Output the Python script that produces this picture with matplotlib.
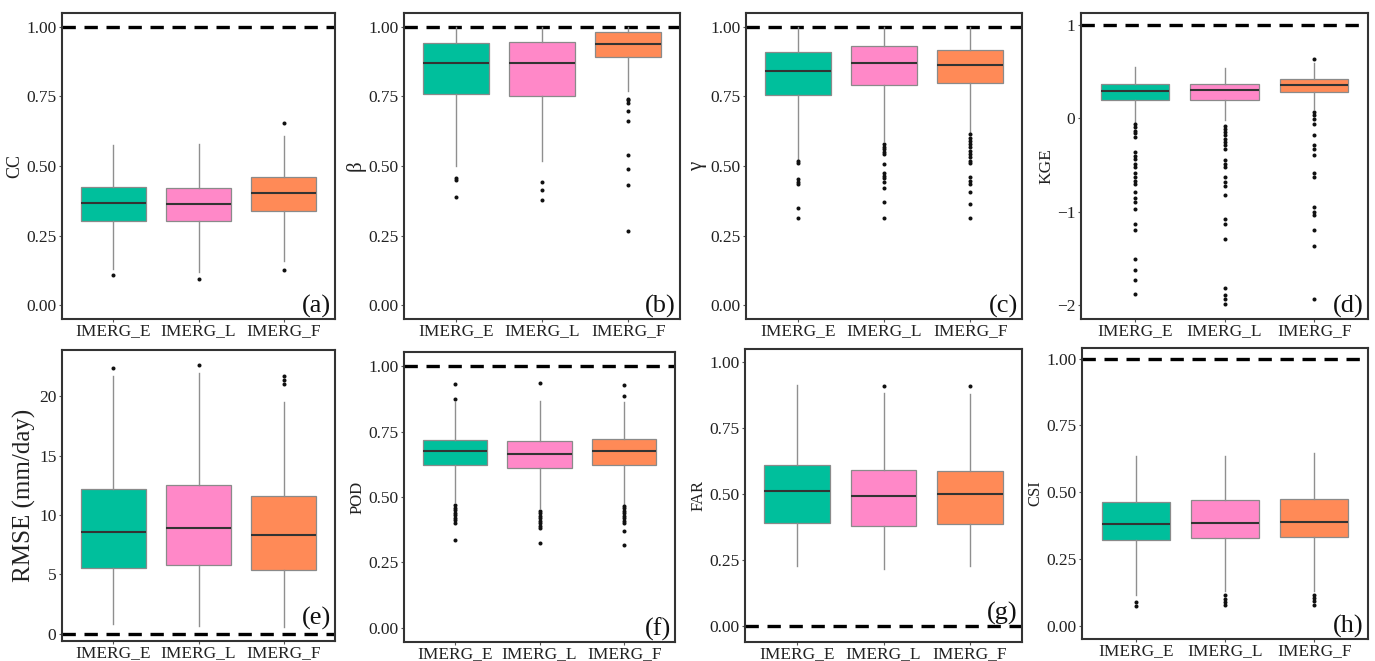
import matplotlib
matplotlib.use("Agg")
import matplotlib.pyplot as plt

plt.rcParams["font.family"] = ["Liberation Serif", "DejaVu Serif"]

# ── data ──
models = ["IMERG_E", "IMERG_L", "IMERG_F"]
box_colors = ["#00BF9C", "#FF88C8", "#FF8A57"]

cc = dict(q1=[0.301, 0.301, 0.338], med=[0.366, 0.364, 0.402], q3=[0.424, 0.421, 0.462],
          lo=[0.13, 0.12, 0.158], hi=[0.575, 0.579, 0.609],
          fliers=[[0.107], [0.095], [0.125, 0.653]])

beta = dict(q1=[0.758, 0.751, 0.893], med=[0.871, 0.869, 0.940], q3=[0.943, 0.945, 0.982],
            lo=[0.501, 0.519, 0.770], hi=[1.0, 1.0, 1.0],
            fliers=[[0.457, 0.448, 0.387], [0.444, 0.412, 0.377],
                    [0.742, 0.736, 0.728, 0.696, 0.662, 0.541, 0.489, 0.432, 0.266]])

gamma = dict(q1=[0.755, 0.790, 0.800], med=[0.840, 0.871, 0.862], q3=[0.911, 0.930, 0.916],
             lo=[0.525, 0.591, 0.623], hi=[1.0, 1.0, 1.0],
             fliers=[[0.517, 0.510, 0.453, 0.444, 0.435, 0.350, 0.314],
                     [0.579, 0.570, 0.561, 0.551, 0.542, 0.506, 0.475, 0.465, 0.457,
                      0.443, 0.420, 0.370, 0.314],
                     [0.614, 0.602, 0.591, 0.579, 0.567, 0.555, 0.543, 0.531, 0.519, 0.510,
                      0.459, 0.447, 0.435, 0.406, 0.364, 0.313]])

kge = dict(q1=[0.20, 0.20, 0.283], med=[0.297, 0.30, 0.358], q3=[0.373, 0.373, 0.423],
           lo=[-0.04, -0.02, 0.104], hi=[0.552, 0.54, 0.595],
           fliers=[[-0.06, -0.09, -0.13, -0.16, -0.20, -0.36, -0.40, -0.43, -0.49, -0.52,
                    -0.59, -0.63, -0.67, -0.70, -0.79, -0.85, -0.90, -0.97, -1.13, -1.20,
                    -1.51, -1.63, -1.73, -1.88],
                   [-0.08, -0.11, -0.15, -0.18, -0.22, -0.25, -0.29, -0.33, -0.45, -0.49,
                    -0.52, -0.63, -0.68, -0.72, -0.82, -1.08, -1.13, -1.29, -1.82, -1.89,
                    -1.94, -1.99],
                   [0.634, 0.068, 0.032, -0.004, -0.057, -0.18, -0.29, -0.33, -0.39, -0.58,
                    -0.63, -0.95, -1.0, -1.04, -1.20, -1.37, -1.94]])

rmse = dict(q1=[5.56, 5.78, 5.36], med=[8.61, 8.89, 8.36], q3=[12.17, 12.5, 11.61],
            lo=[0.83, 0.69, 0.61], hi=[21.75, 22.0, 19.53],
            fliers=[[22.36], [22.67], [21.69, 21.39, 21.06]])

pod = dict(q1=[0.622, 0.611, 0.622], med=[0.676, 0.666, 0.676], q3=[0.720, 0.714, 0.722],
           lo=[0.481, 0.456, 0.475], hi=[0.864, 0.867, 0.864],
           fliers=[[0.932, 0.874, 0.469, 0.459, 0.450, 0.440, 0.431, 0.421, 0.412, 0.400, 0.337],
                   [0.937, 0.447, 0.437, 0.427, 0.418, 0.410, 0.400, 0.390, 0.382, 0.324],
                   [0.930, 0.887, 0.465, 0.456, 0.446, 0.437, 0.427, 0.418, 0.410, 0.400,
                    0.368, 0.318]])

far = dict(q1=[0.389, 0.380, 0.386], med=[0.511, 0.492, 0.501], q3=[0.610, 0.592, 0.588],
           lo=[0.228, 0.215, 0.227], hi=[0.915, 0.884, 0.880],
           fliers=[[], [0.909], [0.908]])

csi = dict(q1=[0.320, 0.327, 0.333], med=[0.381, 0.383, 0.389], q3=[0.465, 0.469, 0.475],
           lo=[0.114, 0.128, 0.128], hi=[0.636, 0.636, 0.648],
           fliers=[[0.089, 0.074], [0.114, 0.101, 0.089, 0.077], [0.116, 0.104, 0.091, 0.079]])

unit_ticks = [0, 0.25, 0.5, 0.75, 1.0]
unit_labels = ["0.00", "0.25", "0.50", "0.75", "1.00"]
kge_ticks = [-2, -1, 0, 1]
kge_labels = ["\u22122", "\u22121", "0", "1"]
rmse_ticks = [0, 5, 10, 15, 20]
rmse_labels = ["0", "5", "10", "15", "20"]

# data, y label, label size, ref line, ylim, ticks, tick labels, tag, tag y (axes frac)
panels = [
    (cc, "CC", 13, 1.0, (-0.05, 1.05), unit_ticks, unit_labels, "(a)", 0.0),
    (beta, "\u03b2", 15, 1.0, (-0.05, 1.05), unit_ticks, unit_labels, "(b)", 0.0),
    (gamma, "\u03b3", 15, 1.0, (-0.05, 1.05), unit_ticks, unit_labels, "(c)", 0.0),
    (kge, "KGE", 12.5, 1.0, (-2.15, 1.13), kge_ticks, kge_labels, "(d)", 0.0),
    (rmse, "RMSE (mm/day)", 18, 0.0, (-0.6, 23.9), rmse_ticks, rmse_labels, "(e)", 0.035),
    (pod, "POD", 12, 1.0, (-0.055, 1.055), unit_ticks, unit_labels, "(f)", 0.0),
    (far, "FAR", 12, 0.0, (-0.06, 1.05), unit_ticks, unit_labels, "(g)", 0.055),
    (csi, "CSI", 12, 1.0, (-0.05, 1.04), unit_ticks, unit_labels, "(h)", 0.0),
]

# axes rectangles in pixels: left, top, right, bottom
W, H = 1375, 661
rects = [(62, 13, 335, 319), (404, 13, 680, 319), (746, 13, 1022, 319), (1081, 13, 1368, 319),
         (62, 350, 335, 641), (404, 352, 675, 642), (745, 349, 1022, 642), (1082, 348, 1368, 639)]

fig = plt.figure(figsize=(W / 100, H / 100), dpi=100)

for (d, ylab, labsize, ref, ylim, yt, ytl, tag, tag_y), (l, t, r, b) in zip(panels, rects):
    ax = fig.add_axes([l / W, 1 - b / H, (r - l) / W, (b - t) / H])
    stats = []
    for i, name in enumerate(models):
        stats.append(dict(label=name, q1=d["q1"][i], med=d["med"][i], q3=d["q3"][i],
                          whislo=d["lo"][i], whishi=d["hi"][i], fliers=d["fliers"][i]))
    ax.axhline(ref, color="black", linewidth=2.4, linestyle=(0, (4, 2.6)), zorder=1)
    bp = ax.bxp(stats, positions=[1, 2, 3], widths=0.76, patch_artist=True, showcaps=False,
                boxprops=dict(edgecolor="#8a8a8a", linewidth=0.9),
                whiskerprops=dict(color="#8f8f8f", linewidth=1.0),
                medianprops=dict(color="#333333", linewidth=1.5),
                flierprops=dict(marker="o", markersize=2.9, markerfacecolor="#111111",
                                markeredgewidth=0, linestyle="none"),
                zorder=2)
    for patch, c in zip(bp["boxes"], box_colors):
        patch.set_facecolor(c)
    ax.set_xlim(0.4, 3.6)
    ax.set_ylim(*ylim)
    ax.set_yticks(yt)
    ax.set_yticklabels(ytl)
    ax.tick_params(axis="both", labelsize=12.5, length=2.5, width=0.8, color="#555555",
                   labelcolor="#222222")
    ax.tick_params(axis="x", pad=0.5)
    ax.tick_params(axis="y", pad=1.5)
    ax.set_ylabel(ylab, fontsize=labsize, labelpad=2, color="#222222")
    for s in ax.spines.values():
        s.set_color("#333333")
        s.set_linewidth(1.5)
    ax.text(0.985, 0.003 + tag_y, tag, transform=ax.transAxes, ha="right", va="bottom",
            fontsize=19, color="#111111")

fig.savefig("out.png", dpi=100)
